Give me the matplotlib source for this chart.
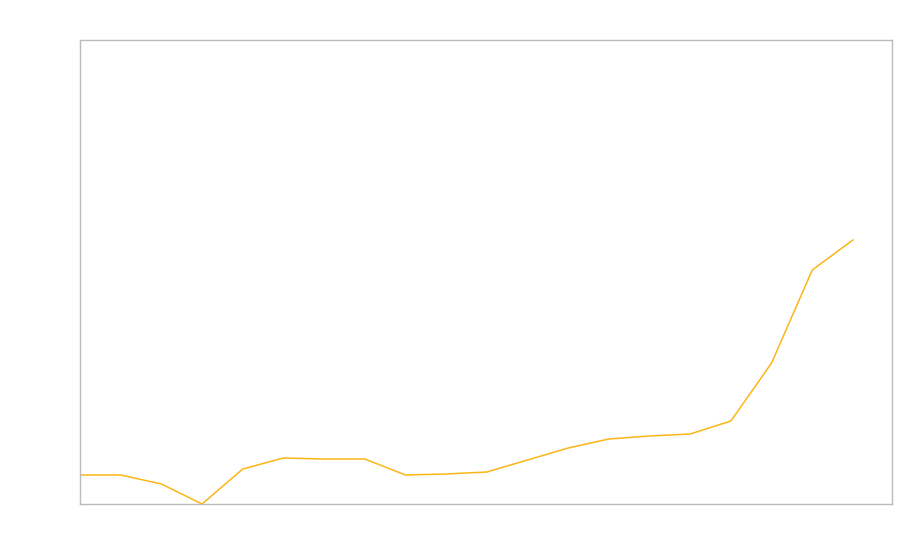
import matplotlib
matplotlib.use("Agg")
import matplotlib.pyplot as plt

# ---------- Data ----------
steps = list(range(20))
values = [29, 29, 20, 0, 35, 46, 45, 45, 29, 30, 32, 44, 56, 65, 68, 70, 83, 141, 234, 264]

# ---------- Plot ----------
fig = plt.figure(figsize=(9, 5.6), dpi=100)
ax = fig.add_axes([80 / 900, 56 / 560, 812 / 900, 464 / 560])

ax.plot(steps, values, color="#FBB616", linewidth=1.1)

ax.set_xlim(0, 19.96)
ax.set_ylim(0, 464)
ax.set_xticks([]); ax.set_yticks([])
for s in ax.spines.values():
    s.set_color("#bbbbbb")
    s.set_linewidth(1)

fig.savefig("out.png", dpi=100)
